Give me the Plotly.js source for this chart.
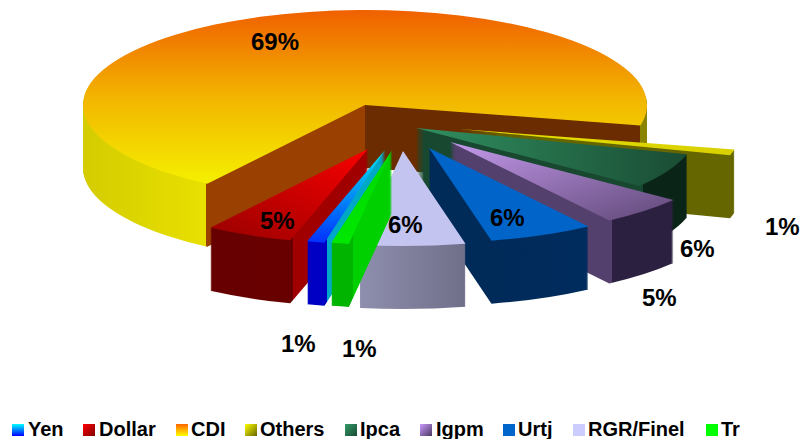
<!DOCTYPE html>
<html><head><meta charset="utf-8">
<script src="https://cdn.plot.ly/plotly-3.0.1.min.js"></script>
<style>html,body{margin:0;padding:0;background:#fff;overflow:hidden}#g{width:801px;height:439px}</style>
</head><body><div id="g"></div>
<script>
const labels = ['Yen','Dollar','CDI','Others','Ipca','Igpm','Urtj','RGR/Finel','Tr'];
const values = [1,5,69,1,6,5,6,6,1];
const baseColors = ['#00a0ff','#c00000','#f5b000','#b0b000','#2a7a50','#9070b0','#0064c8','#ccccff','#00ff00'];

// Look of the tilted 3D pie
const center = [365,105], radiusX = 282, radiusY = 95, depth = 63;
const explodeX = [20,3,0,94,51,85,64,38,27];
const explodeY = [45,44,0,24,23,37,43,46,45];
const drawOrder = ['CDI','Others','Ipca','Igpm','Urtj','RGR/Finel','Dollar','Yen','Tr'];
// top-face gradients: [x1,y1,x2,y2,[stops]]
const topFill = [
 [0,0,0,1,['#00e8f0','#0030ff']],
 [1,0,0,1,['#f80000','#980000']],
 [0,0,0,1,['#f06000','#f2b400','#f5f000']],
 [0,0,1,0,['#e8e000','#d8d000']],
 [0,0,1,0,['#309060','#1a4c34']],
 [0,0,1,1,['#c49aec','#604878']],
 [0,0,1,0,['#0064c8','#0064c8']],
 [0,0,1,0,['#c4c4f0','#c4c4f0']],
 [0,0,0,1,['#00d800','#00e800']]
];
// side colours as bands by screen x: [untilX,colourAtStart,colourAtEnd]
const sideBands = [
 [[327,'#0000c4','#0000c4'],[801,'#00a8c8','#00a8c8']],
 [[293,'#640000','#680000'],[801,'#a00000','#a00000']],
 [[82,'#d4cc00','#d4cc00'],[206,'#d4cc00','#e8e000'],[365,'#9a4000','#9a4000'],[640,'#6a2c00','#6a2c00'],[801,'#8a8400','#8a8400']],
 [[801,'#666600','#666600']],
 [[643,'#184830','#184830'],[801,'#0a2418','#0a2418']],
 [[612,'#54406c','#54406c'],[801,'#2c2040','#2c2040']],
 [[488,'#002a58','#002a58'],[592,'#002a58','#002c5e'],[801,'#002c5e','#002c5e']],
 [[360,'#8e8eae','#8e8eae'],[464,'#8e8eae','#70708a'],[801,'#70708a','#70708a']],
 [[353,'#00b400','#00b400'],[801,'#00d000','#00d000']]
];
const legendFill = [
 [0,0,0,1,['#00ffff','#0000ff']],
 [0,0,1,1,['#ff0000','#800000']],
 [0,0,0,1,['#ff6600','#ffff00']],
 [0,0,1,1,['#ffff00','#666600']],
 [0,0,1,1,['#339966','#1a4c34']],
 [0,0,1,1,['#cc99ff','#4a3a60']],
 [0,0,1,0,['#0066cc','#0066cc']],
 [0,0,1,0,['#ccccff','#ccccff']],
 [0,0,1,0,['#00ff00','#00ff00']]
];
const legendSwatchX = [12,83,176,245,345,420,503,573,706];
const legendTextX = [28,99,191,260,360,436,518,588,721];
const legendTextY = 428, legendSwatchY = 430;
const labelX = [298,277,275,782,697,659,507,405,359];
const labelY = [343,220,41,226,248,297,218,224,348];

const W = 801, H = 439, FONT = '"Liberation Sans", Arial, sans-serif';
const traces = [];
for (let d = depth; d >= 0; d--) {
  traces.push({
    type:'pie', labels:labels, values:values, sort:false, direction:'clockwise',
    rotation:192.4, textinfo:'none', hoverinfo:'skip', showlegend:d===0,
    marker:{colors:baseColors, line:{width:0}}, domain:{x:[0,1],y:[0,1]}
  });
}
const layout = {
  width:W, height:H, margin:{l:0,r:0,t:0,b:0}, paper_bgcolor:'#fff',
  showlegend:true,
  legend:{orientation:'h', x:0, y:0, yanchor:'bottom', font:{family:FONT,size:20,color:'#000',weight:700}, itemwidth:30, bgcolor:'rgba(0,0,0,0)'},
  annotations: labels.map((l,i)=>({
    xref:'paper', yref:'paper', x:labelX[i]/W, y:1-labelY[i]/H, xanchor:'center', yanchor:'middle',
    showarrow:false, text:values[i]+'%', font:{family:FONT,size:24,color:'#000',weight:700}
  }))
};
const NS = 'http://www.w3.org/2000/svg';
Plotly.newPlot('g', traces, layout, {displayModeBar:false, staticPlot:true}).then(gd => {
  const svg = gd.querySelector('svg.main-svg');
  const defs = document.createElementNS(NS,'defs'); svg.insertBefore(defs, svg.firstChild);
  const stop = (g,o,c) => {const s=document.createElementNS(NS,'stop');s.setAttribute('offset',o);s.setAttribute('stop-color',c);g.appendChild(s);};
  const grad = (id,f) => {
    const g = document.createElementNS(NS,'linearGradient'); g.setAttribute('id',id);
    ['x1','y1','x2','y2'].forEach((k,i)=>g.setAttribute(k,f[i]));
    f[4].forEach((c,i)=>stop(g,i/(f[4].length-1),c));
    defs.appendChild(g);
  };
  const cx = W/2, cy = H/2, r = Math.min(W,H)/2, sx = radiusX/r, sy = radiusY/r;
  labels.forEach((l,i)=>{
    grad('top'+i, topFill[i]); grad('leg'+i, legendFill[i]);
    const g = document.createElementNS(NS,'linearGradient'); g.setAttribute('id','side'+i);
    g.setAttribute('gradientUnits','userSpaceOnUse');
    g.setAttribute('x1', cx+(0-center[0]-explodeX[i])/sx); g.setAttribute('x2', cx+(W-center[0]-explodeX[i])/sx);
    g.setAttribute('y1',0); g.setAttribute('y2',0);
    let prev=0;
    sideBands[i].forEach(b=>{ stop(g,prev/W,b[1]); stop(g,b[0]/W,b[2]); prev=b[0]; });
    defs.appendChild(g);
  });
  const layer = gd.querySelector('.pielayer');
  const groups = Array.from(layer.querySelectorAll('g.trace'));
  const holders = {};
  drawOrder.forEach(n=>{const h=document.createElementNS(NS,'g');layer.appendChild(h);holders[n]=h;});
  groups.forEach((tg,ti)=>{
    const d = depth-ti;
    Array.from(tg.querySelectorAll('g.slice')).forEach((sl,i)=>{
      sl.setAttribute('transform',`translate(${center[0]+explodeX[i]},${center[1]+explodeY[i]+d}) scale(${sx},${sy}) translate(${-cx},${-cy})`);
      const p = sl.querySelector('path.surface');
      p.style.fill = `url(#${d===0?'top':'side'}${i})`;
      p.style.strokeWidth = 0;
      holders[labels[i]].appendChild(sl);
    });
  });
  // legend placement
  const leg = gd.querySelector('.legend');
  leg.setAttribute('transform','translate(0,0)');
  const sb = leg.querySelector('.scrollbox'); if(sb){sb.removeAttribute('clip-path');sb.setAttribute('transform','translate(0,0)');}
  const bg = leg.querySelector('.bg'); if(bg) bg.style.display='none';
  Array.from(leg.querySelectorAll('.traces')).forEach(t=>{
    const i = labels.indexOf(t.querySelector('text').textContent);
    t.setAttribute('transform',`translate(0,${legendTextY})`);
    const p = t.querySelector('path.legendpie');
    p.setAttribute('transform',`translate(${legendSwatchX[i]+6},${legendSwatchY-legendTextY})`);
    p.style.fill = `url(#leg${i})`; p.style.strokeWidth=0;
    t.querySelector('text').setAttribute('x',legendTextX[i]);
    const tog = t.querySelector('.legendtoggle'); if(tog) tog.style.display='none';
  });
});
</script></body></html>
